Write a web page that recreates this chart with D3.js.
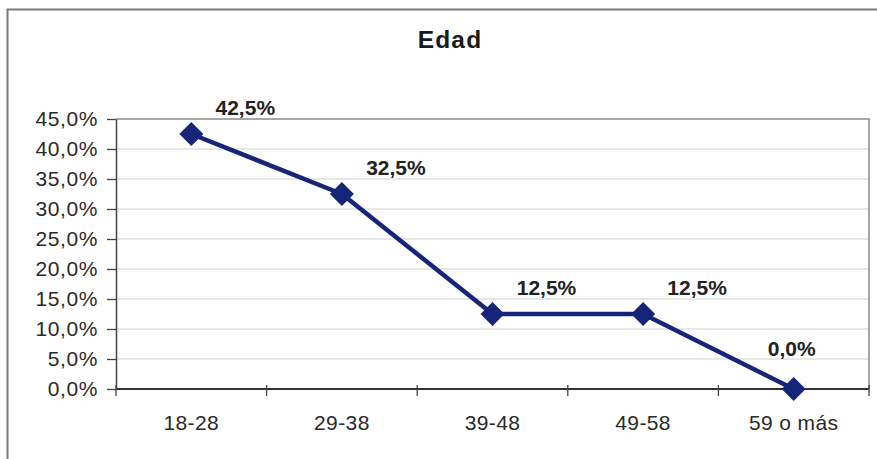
<!DOCTYPE html>
<html>
<head>
<meta charset="utf-8">
<script src="https://cdn.jsdelivr.net/npm/d3@7/dist/d3.min.js"></script>
<style>
  html, body { margin: 0; padding: 0; background: #fff; }
  svg { display: block; font-family: "Liberation Sans", Arial, sans-serif; }
</style>
</head>
<body>
<svg id="chart" width="877" height="459"></svg>
<script>
// Age distribution (share of respondents per age group)
const categories = ["18-28", "29-38", "39-48", "49-58", "59 o más"];
const values = [42.5, 32.5, 12.5, 12.5, 0.0];
const yTicks = [0, 5, 10, 15, 20, 25, 30, 35, 40, 45];
const title = "Edad";

const fmt = v => v.toFixed(1).replace(".", ",") + "%";

const svg = d3.select("#chart");
const W = 877, H = 459;
const m = { left: 116, right: 8, top: 119, bottom: 70 };
const pw = W - m.left - m.right;
const ph = H - m.top - m.bottom;

// outer chart frame
svg.append("rect")
  .attr("x", 7.5).attr("y", 9.5)
  .attr("width", W + 10).attr("height", H + 10)
  .attr("fill", "#fff").attr("stroke", "#7a7a7a").attr("stroke-width", 2);

svg.append("text")
  .attr("x", 450).attr("y", 48)
  .attr("text-anchor", "middle")
  .attr("font-size", 24.5).attr("font-weight", "bold")
  .attr("letter-spacing", 1.2)
  .attr("fill", "#1a1a1a")
  .text(title);

const g = svg.append("g").attr("transform", `translate(${m.left},${m.top})`);

const x = d3.scaleBand().domain(categories).range([0, pw]);
const y = d3.scaleLinear().domain([0, 45]).range([ph, 0]);

// horizontal gridlines
g.append("g")
  .selectAll("line")
  .data(yTicks.filter(t => t > 0 && t < 45))
  .join("line")
  .attr("x1", 0).attr("x2", pw)
  .attr("y1", d => y(d)).attr("y2", d => y(d))
  .attr("stroke", "#cfcfcf").attr("stroke-width", 1.2);

// plot frame (top and right edges)
g.append("path")
  .attr("d", `M0,${y(45)}H${pw}V${ph}`)
  .attr("fill", "none").attr("stroke", "#8a8a8a").attr("stroke-width", 1.5);

// y axis
const yAxis = g.append("g")
  .call(d3.axisLeft(y).tickValues(yTicks).tickFormat(fmt).tickSize(9).tickSizeOuter(0));
yAxis.select(".domain").attr("stroke", "#444").attr("stroke-width", 1.5);
yAxis.selectAll(".tick line").attr("stroke", "#444").attr("stroke-width", 1.3);
yAxis.selectAll(".tick text")
  .attr("font-size", 21).attr("letter-spacing", 0.6).attr("fill", "#2a2a2a").attr("x", -18)
  .attr("font-family", "'Liberation Sans', Arial, sans-serif");

// x axis, ticks at category boundaries
const xAxis = g.append("g").attr("transform", `translate(0,${ph})`);
xAxis.append("line")
  .attr("x1", 0).attr("x2", pw)
  .attr("stroke", "#333").attr("stroke-width", 2);
xAxis.selectAll(".bound")
  .data(categories.concat(["end"]))
  .join("line")
  .attr("class", "bound")
  .attr("x1", (d, i) => i * x.bandwidth()).attr("x2", (d, i) => i * x.bandwidth())
  .attr("y1", -4).attr("y2", 7)
  .attr("stroke", "#444").attr("stroke-width", 1.3);
xAxis.selectAll(".lbl")
  .data(categories)
  .join("text")
  .attr("class", "lbl")
  .attr("x", d => x(d) + x.bandwidth() / 2)
  .attr("y", 41)
  .attr("text-anchor", "middle")
  .attr("font-size", 21).attr("letter-spacing", 0.4).attr("fill", "#2a2a2a")
  .text(d => d);

const pts = categories.map((c, i) => ({ c, v: values[i] }));
const cx = d => x(d.c) + x.bandwidth() / 2;

g.append("path")
  .datum(pts)
  .attr("d", d3.line().x(cx).y(d => y(d.v)))
  .attr("fill", "none").attr("stroke", "#16257a").attr("stroke-width", 4.5)
  .attr("stroke-linejoin", "round");

g.selectAll(".mk")
  .data(pts)
  .join("path")
  .attr("class", "mk")
  .attr("transform", d => `translate(${cx(d)},${y(d.v)})`)
  .attr("d", "M0,-12L12,0L0,12L-12,0Z")
  .attr("fill", "#16257a");

// value labels sit above-right of each point; the last one is centred above it
const last = pts.length - 1;
g.selectAll(".val")
  .data(pts)
  .join("text")
  .attr("class", "val")
  .attr("x", (d, i) => cx(d) + (i === last ? -2 : 54))
  .attr("y", (d, i) => y(d.v) - (i === last ? 33 : 19))
  .attr("text-anchor", "middle")
  .attr("font-size", 21).attr("font-weight", "bold").attr("fill", "#222")
  .text(d => fmt(d.v));
</script>
</body>
</html>
